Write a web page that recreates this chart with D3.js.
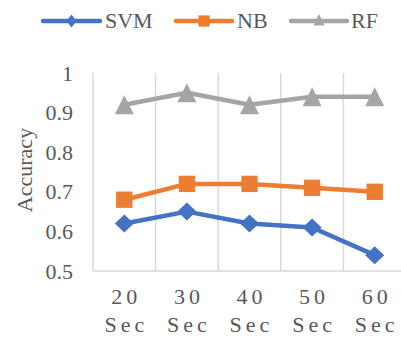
<!DOCTYPE html>
<html>
<head>
<meta charset="utf-8">
<script src="https://cdn.jsdelivr.net/npm/d3@7"></script>
<style>
  html, body { margin: 0; padding: 0; background: #fff; }
  svg { display: block; font-family: "Liberation Serif", "Times New Roman", serif; }
</style>
</head>
<body>
<svg id="chart" width="401" height="339"></svg>
<script>
// Time windows and accuracy per classifier
const categories = ["20 Sec", "30 Sec", "40 Sec", "50 Sec", "60 Sec"];
const svmValues = [0.62, 0.65, 0.62, 0.61, 0.54];
const nbValues  = [0.68, 0.72, 0.72, 0.71, 0.70];
const rfValues  = [0.92, 0.95, 0.92, 0.94, 0.94];
const yTicks = [0.5, 0.6, 0.7, 0.8, 0.9, 1];
const yTickLabels = ["0.5", "0.6", "0.7", "0.8", "0.9", "1"];

// Diamond with independent width/height
function diamondPath(w, h) {
  return `M0,${-h / 2}L${w / 2},0L0,${h / 2}L${-w / 2},0Z`;
}
// Triangle given width, apex offset above and base offset below the anchor
function trianglePath(w, up, down) {
  return `M0,${-up}L${w / 2},${down}L${-w / 2},${down}Z`;
}

const series = [
  { name: "SVM", values: svmValues, color: "#4472C4",
    marker: diamondPath(19, 18),
    key: diamondPath(10, 13) },
  { name: "NB", values: nbValues, color: "#ED7D31",
    marker: d3.symbol().type(d3.symbolSquare2).size(340)(),
    key: d3.symbol().type(d3.symbolSquare2).size(160)() },
  { name: "RF", values: rfValues, color: "#A5A5A5",
    marker: trianglePath(19, 9.5, 9.5),
    key: trianglePath(11, 7, 4.5) }
];

const svg = d3.select("#chart");
const plot = { left: 93, right: 406, top: 73, bottom: 271 };
const textColor = "#595959";
const gridColor = "#D9D9D9";
const fontSize = 22;

const x = d3.scaleBand().domain(categories).range([plot.left, plot.right]);
const y = d3.scaleLinear().domain([0.5, 1]).range([plot.bottom, plot.top]);
const cx = c => x(c) + x.bandwidth() / 2;

// Vertical gridlines at category boundaries
const bounds = categories.map(c => x(c)).concat([plot.right]);
svg.append("g").selectAll("line").data(bounds.slice(1)).join("line")
  .attr("x1", d => d).attr("x2", d => d)
  .attr("y1", plot.top).attr("y2", plot.bottom)
  .attr("stroke", gridColor).attr("stroke-width", 1.5);

// Left axis line
svg.append("line")
  .attr("x1", plot.left).attr("x2", plot.left)
  .attr("y1", plot.top).attr("y2", plot.bottom)
  .attr("stroke", gridColor).attr("stroke-width", 1.5);

// Bottom axis line
svg.append("line")
  .attr("x1", plot.left).attr("x2", plot.right)
  .attr("y1", plot.bottom).attr("y2", plot.bottom)
  .attr("stroke", gridColor).attr("stroke-width", 1.5);

// Y tick labels
const yAxis = d3.axisLeft(y).tickValues(yTicks)
  .tickFormat((d, i) => yTickLabels[i]).tickSize(0).tickPadding(20);
const gy = svg.append("g").attr("transform", `translate(${plot.left},0)`).call(yAxis);
gy.select(".domain").remove();
gy.selectAll("text")
  .attr("font-size", fontSize).attr("fill", textColor)
  .attr("font-family", "Liberation Serif, serif");

// X tick labels (two lines, letter-spaced)
const gx = svg.append("g");
categories.forEach(c => {
  const [num, unit] = c.split(" ");
  const t = gx.append("text")
    .attr("text-anchor", "middle")
    .attr("font-size", fontSize).attr("fill", textColor)
    .attr("letter-spacing", "4px");
  t.append("tspan").attr("x", cx(c) + 2).attr("y", 304).text(num);
  t.append("tspan").attr("x", cx(c) + 2).attr("y", 332).text(unit);
});

// Y axis title
svg.append("text")
  .attr("transform", "translate(32,170) rotate(-90)")
  .attr("text-anchor", "middle")
  .attr("font-size", fontSize).attr("fill", textColor)
  .text("Accuracy");

// Lines and markers
const line = d3.line()
  .x((d, i) => cx(categories[i]))
  .y(d => y(d));

series.forEach(s => {
  svg.append("path")
    .datum(s.values)
    .attr("d", line)
    .attr("fill", "none")
    .attr("stroke", s.color)
    .attr("stroke-width", 4.5)
    .attr("stroke-linejoin", "round")
    .attr("stroke-linecap", "round");
});

series.forEach(s => {
  svg.append("g").selectAll("path").data(s.values).join("path")
    .attr("transform", (d, i) => `translate(${cx(categories[i])},${y(d)})`)
    .attr("d", s.marker)
    .attr("fill", s.color);
});

// Legend
const legendItems = [
  { s: series[0], x0: 43, x1: 100, tx: 105 },
  { s: series[1], x0: 176, x1: 232, tx: 237 },
  { s: series[2], x0: 291, x1: 347, tx: 351 }
];
const legend = svg.append("g");
legendItems.forEach(it => {
  legend.append("line")
    .attr("x1", it.x0).attr("x2", it.x1).attr("y1", 21).attr("y2", 21)
    .attr("stroke", it.s.color).attr("stroke-width", 4.5)
    .attr("stroke-linecap", "round");
  legend.append("path")
    .attr("transform", `translate(${(it.x0 + it.x1) / 2},21)`)
    .attr("d", it.s.key)
    .attr("fill", it.s.color);
  legend.append("text")
    .attr("x", it.tx).attr("y", 28)
    .attr("font-size", fontSize).attr("fill", textColor)
    .text(it.s.name);
});
</script>
</body>
</html>
